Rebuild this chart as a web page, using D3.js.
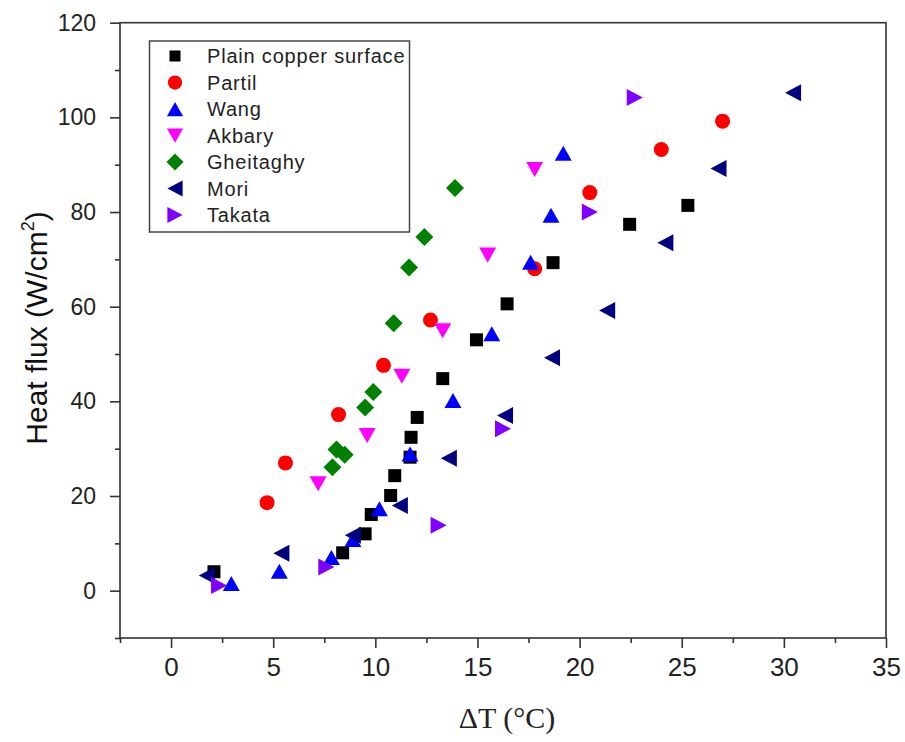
<!DOCTYPE html>
<html>
<head>
<meta charset="utf-8">
<title>Heat flux vs superheat</title>
<script src="https://d3js.org/d3.v7.min.js"></script>
<style>
  body { margin: 0; background: #fff; }
  svg { display: block; font-family: "Liberation Sans", Arial, sans-serif; }
</style>
</head>
<body>
<script>
// data (x = ΔT in °C, y = heat flux in W/cm²)
var plainX = [2.1, 8.4, 9.5, 9.8, 10.75, 10.95, 11.7, 11.75, 12.05, 13.3, 14.95, 16.45, 18.7, 22.45, 25.3];
var plainY = [4.0, 8.0, 12.0, 16.1, 20.1, 24.3, 28.2, 32.4, 36.6, 44.8, 53.0, 60.6, 69.3, 77.4, 81.4];

var partilX = [4.7, 5.6, 8.2, 10.4, 12.7, 17.8, 20.5, 24.0, 27.0];
var partilY = [18.6, 27.0, 37.2, 47.6, 57.2, 68.0, 84.1, 93.2, 99.2];

var wangX = [2.95, 5.3, 7.85, 8.9, 10.2, 11.7, 13.8, 15.7, 17.6, 18.6, 19.2];
var wangY = [1.5, 4.1, 7.0, 10.8, 17.3, 28.9, 40.2, 54.3, 69.4, 79.3, 92.4];

var akbaryX = [7.2, 9.6, 11.3, 13.3, 15.5, 17.8];
var akbaryY = [22.6, 32.8, 45.3, 54.9, 70.9, 89.0];

var gheiX = [7.9, 8.1, 8.5, 9.5, 9.9, 10.9, 11.65, 12.4, 13.9];
var gheiY = [26.1, 29.8, 28.7, 38.7, 42.0, 56.5, 68.3, 74.7, 85.1];

var moriX = [1.75, 5.4, 8.9, 11.2, 13.6, 16.35, 18.65, 21.35, 24.2, 26.8, 30.45];
var moriY = [3.2, 7.9, 11.7, 18.0, 28.0, 37.0, 49.2, 59.2, 73.5, 89.2, 105.2];

var takataX = [2.35, 7.6, 13.1, 16.25, 20.5, 22.7];
var takataY = [1.1, 5.0, 13.8, 34.2, 80.0, 104.2];

var xTicks = [0, 5, 10, 15, 20, 25, 30, 35];
var yTicks = [0, 20, 40, 60, 80, 100, 120];

var series = [
    {name: "Plain copper surface", xs: plainX, ys: plainY, shape: "square", color: "#000000"},
    {name: "Partil", xs: partilX, ys: partilY, shape: "circle", color: "#ff0000"},
    {name: "Wang", xs: wangX, ys: wangY, shape: "up", color: "#0000ff"},
    {name: "Akbary", xs: akbaryX, ys: akbaryY, shape: "down", color: "#ff00ff"},
    {name: "Gheitaghy", xs: gheiX, ys: gheiY, shape: "diamond", color: "#008000"},
    {name: "Mori", xs: moriX, ys: moriY, shape: "left", color: "#000080"},
    {name: "Takata", xs: takataX, ys: takataY, shape: "right", color: "#8000ff"}
];

var width = 905, height = 742;
var plotLeft = 120, plotRight = 886, plotTop = 22.7, plotBottom = 638;

var svg = d3.select("body").append("svg")
    .attr("width", width)
    .attr("height", height);

var x = d3.scaleLinear().domain([-2.5, 35]).range([plotLeft, plotRight]);
var y = d3.scaleLinear().domain([-10, 120]).range([plotBottom, plotTop]);

// marker shapes, centred on their bounding box
function shapePath(shape) {
    switch (shape) {
        case "square": return "M-6.5,-6.5H6.5V6.5H-6.5Z";
        case "circle": return "M7.5,0A7.5,7.5 0 1,1 -7.5,0A7.5,7.5 0 1,1 7.5,0Z";
        case "up": return "M0,-7.5L8.5,7.5L-8.5,7.5Z";
        case "down": return "M0,7.5L8.5,-7.5L-8.5,-7.5Z";
        case "diamond": return "M0,-9L9,0L0,9L-9,0Z";
        case "left": return "M-8,0L8,-8.5L8,8.5Z";
        case "right": return "M8,0L-8,-8.5L-8,8.5Z";
    }
}

// frame
svg.append("rect")
    .attr("x", plotLeft).attr("y", plotTop)
    .attr("width", plotRight - plotLeft).attr("height", plotBottom - plotTop)
    .attr("fill", "none").attr("stroke", "#333").attr("stroke-width", 1.6);

// axes
var xAxis = svg.append("g")
    .attr("transform", "translate(0," + plotBottom + ")")
    .call(d3.axisBottom(x).tickValues(xTicks).tickSize(10).tickPadding(10).tickFormat(d3.format("d")));
xAxis.append("g")
    .call(d3.axisBottom(x).tickValues(d3.range(-2.5, 35, 5)).tickSize(5).tickFormat(""));

var yAxis = svg.append("g")
    .attr("transform", "translate(" + plotLeft + ",0)")
    .call(d3.axisLeft(y).tickValues(yTicks).tickSize(10).tickPadding(14).tickFormat(d3.format("d")));
yAxis.append("g")
    .call(d3.axisLeft(y).tickValues(d3.range(-10, 120, 20)).tickSize(5).tickFormat(""));

svg.selectAll(".domain").remove();
svg.selectAll(".tick line").attr("stroke", "#333").attr("stroke-width", 1.6);
xAxis.selectAll(".tick text").attr("font-size", 26).attr("fill", "#222")
    .attr("font-family", "Liberation Sans, Arial, sans-serif");
yAxis.selectAll(".tick text").attr("font-size", 23).attr("fill", "#222")
    .attr("font-family", "Liberation Sans, Arial, sans-serif");

// axis titles
svg.append("text")
    .attr("x", 507)
    .attr("y", 728)
    .attr("text-anchor", "middle")
    .attr("font-family", "Liberation Serif, Times New Roman, serif")
    .attr("font-size", 30)
    .attr("fill", "#222")
    .text("ΔT (°C)");

var yTitle = svg.append("text")
    .attr("transform", "translate(47,328) rotate(-90)")
    .attr("text-anchor", "middle")
    .attr("font-size", 30)
    .attr("fill", "#111");
yTitle.append("tspan").text("Heat flux (W/cm");
yTitle.append("tspan").attr("font-size", 18).attr("dy", -13).text("2");
yTitle.append("tspan").attr("dy", 13).text(")");

// points
series.forEach(function(s) {
    svg.append("g").selectAll("path")
        .data(s.xs.map(function(d, i) { return [d, s.ys[i]]; }))
        .enter()
        .append("path")
        .attr("d", shapePath(s.shape))
        .attr("transform", function(d) {
            return "translate(" + x(d[0]) + "," + y(d[1]) + ")";
        })
        .attr("fill", s.color);
});

// legend
var legend = svg.append("g");
legend.append("rect")
    .attr("x", 149.5).attr("y", 41)
    .attr("width", 260).attr("height", 191)
    .attr("fill", "#fff").attr("stroke", "#444").attr("stroke-width", 1.5);

var rows = legend.selectAll("g.row")
    .data(series)
    .enter()
    .append("g")
    .attr("transform", function(d, i) { return "translate(175," + (56 + i * 26.5) + ")"; });
rows.append("path")
    .attr("d", function(d) { return shapePath(d.shape); })
    .attr("fill", function(d) { return d.color; })
    .attr("transform", function(d) { return d.shape == "square" ? "scale(0.85)" : "scale(0.95)"; });
rows.append("text")
    .attr("x", 32)
    .attr("dy", "0.35em")
    .attr("font-size", 20)
    .attr("letter-spacing", 0.8)
    .attr("fill", "#222")
    .text(function(d) { return d.name; });
</script>
</body>
</html>
